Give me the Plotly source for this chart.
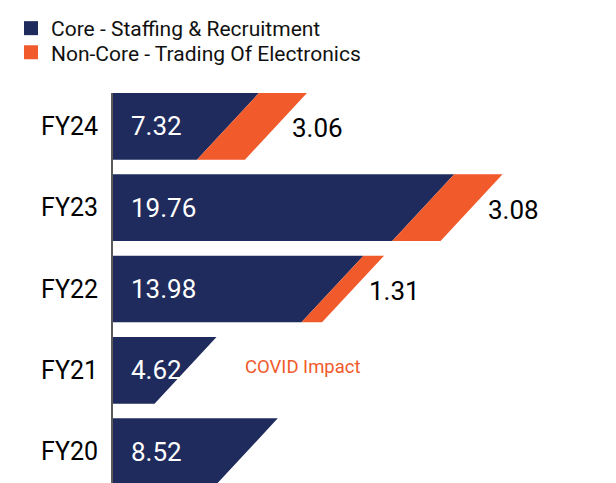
import plotly.graph_objects as go

# ---- data ----
years = ["FY24", "FY23", "FY22", "FY21", "FY20"]
core = [7.32, 19.76, 13.98, 4.62, 8.52]
noncore = [3.06, 3.08, 1.31, None, None]
series_names = ["Core - Staffing & Recruitment", "Non-Core - Trading Of Electronics"]
note_year = "FY21"
note_text = "COVID Impact"

# ---- style ----
NAVY = "#1f2b5c"
ORANGE = "#f15a2b"
FONT = "Roboto"
BAR_HALF = 0.41      # half bar thickness (y units)
SLANT = 3.95         # horizontal run of the sloped bar end (x units)

ypos = [len(years) - 1 - i for i in range(len(years))]  # first year on top

core_x, core_y, nc_x, nc_y = [], [], [], []
for v, n, yc in zip(core, noncore, ypos):
    lo, hi = yc - BAR_HALF, yc + BAR_HALF
    core_x += [0, 0, v + SLANT / 2, v - SLANT / 2, 0, None]
    core_y += [lo, hi, hi, lo, lo, None]
    if n:
        e = v + n
        nc_x += [v - SLANT / 2, v + SLANT / 2, e + SLANT / 2, e - SLANT / 2, v - SLANT / 2, None]
        nc_y += [lo, hi, hi, lo, lo, None]

fig = go.Figure()
fig.add_trace(go.Scatter(x=core_x, y=core_y, fill="toself", fillcolor=NAVY, mode="lines",
                         line=dict(width=0, color=NAVY), showlegend=False, hoverinfo="skip"))
fig.add_trace(go.Scatter(x=nc_x, y=nc_y, fill="toself", fillcolor=ORANGE, mode="lines",
                         line=dict(width=0, color=ORANGE), showlegend=False, hoverinfo="skip"))
# legend entries (one legend box per row so the rows can sit close together)
for name, col, lg in zip(series_names, [NAVY, ORANGE], ["legend", "legend2"]):
    fig.add_trace(go.Scatter(x=[None], y=[None], mode="markers", name=name, legend=lg,
                             marker=dict(symbol="square", size=14, color=col)))

annotations = []
for v, n, yc, yr in zip(core, noncore, ypos, years):
    annotations.append(dict(x=0, y=yc, text=f"{v:.2f}", showarrow=False, xanchor="left",
                            xshift=16, font=dict(family=FONT, size=26, color="white")))
    if n:
        annotations.append(dict(x=v + n, y=yc, text=f"{n:.2f}", showarrow=False, xanchor="left",
                                xshift=14, yshift=-2, font=dict(family=FONT, size=26, color="black")))
    if yr == note_year:
        annotations.append(dict(x=v, y=yc, text=note_text, showarrow=False, xanchor="left",
                                xshift=57, yshift=3, font=dict(family=FONT, size=18.5, color=ORANGE)))

legend_style = dict(xanchor="left", yanchor="top", orientation="v",
                    font=dict(family=FONT, size=21, color="#111111"),
                    bgcolor="rgba(0,0,0,0)")

fig.update_layout(
    width=608, height=475,
    margin=dict(l=105, r=0, t=78, b=0),
    paper_bgcolor="white", plot_bgcolor="white",
    font=dict(family=FONT, color="black"),
    showlegend=True,
    legend=dict(x=-0.2028, y=1.219, **legend_style),
    legend2=dict(x=-0.2028, y=1.156, **legend_style),
    annotations=annotations,
    xaxis=dict(range=[0, 32.04], visible=False, fixedrange=True),
    yaxis=dict(range=[-0.385, 4.41], tickvals=ypos, ticktext=years, showline=True,
               linecolor="#5a5a5a", linewidth=2, showgrid=False, zeroline=False,
               ticks="", ticklabelstandoff=8, tickfont=dict(family=FONT, size=25, color="black"),
               fixedrange=True),
)

fig.write_html("out.html")
